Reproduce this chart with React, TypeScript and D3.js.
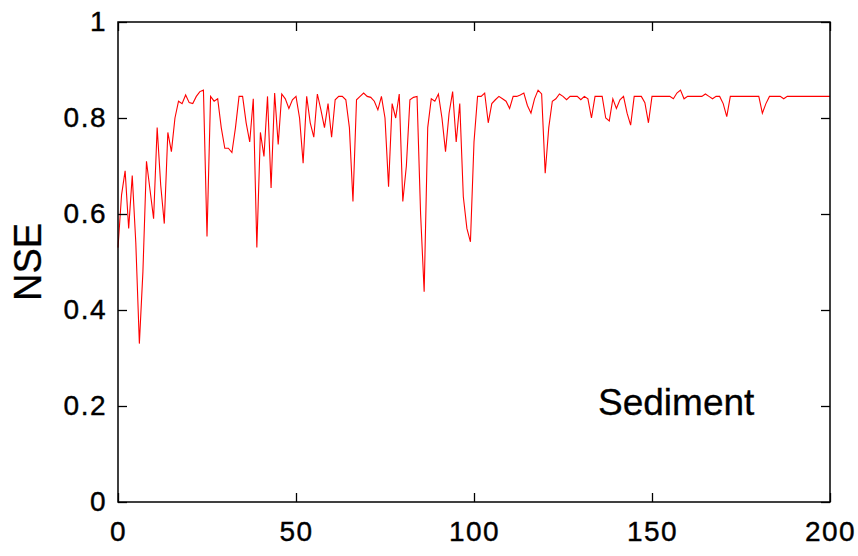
import React, { useEffect, useRef } from 'react';
import * as d3 from 'd3';

// NSE values, one per iteration 0..200
const nse: number[] = [
  0.53, 0.64, 0.69, 0.57, 0.68, 0.54, 0.33, 0.48, 0.71, 0.65,
  0.59, 0.78, 0.66, 0.58, 0.77, 0.73, 0.80, 0.835, 0.83, 0.848,
  0.832, 0.83, 0.845, 0.855, 0.858, 0.553, 0.845, 0.835, 0.84, 0.78,
  0.737, 0.737, 0.728, 0.78, 0.845, 0.845, 0.79, 0.75, 0.84, 0.53,
  0.77, 0.72, 0.845, 0.654, 0.852, 0.745, 0.85, 0.84, 0.82, 0.838,
  0.845, 0.80, 0.706, 0.845, 0.79, 0.76, 0.85, 0.817, 0.78, 0.83,
  0.76, 0.838, 0.845, 0.845, 0.838, 0.78, 0.626, 0.838, 0.845, 0.852,
  0.845, 0.843, 0.835, 0.817, 0.845, 0.80, 0.657, 0.83, 0.80, 0.85,
  0.626, 0.70, 0.838, 0.843, 0.845, 0.60, 0.438, 0.78, 0.84, 0.835,
  0.85, 0.80, 0.73, 0.81, 0.855, 0.75, 0.83, 0.636, 0.57, 0.542,
  0.75, 0.845, 0.845, 0.852, 0.79, 0.83, 0.838, 0.845, 0.84, 0.835,
  0.82, 0.845, 0.845, 0.848, 0.852, 0.826, 0.81, 0.84, 0.858, 0.85,
  0.685, 0.78, 0.835, 0.84, 0.85, 0.845, 0.838, 0.845, 0.845, 0.845,
  0.838, 0.845, 0.84, 0.80, 0.845, 0.845, 0.845, 0.80, 0.794, 0.84,
  0.82, 0.838, 0.845, 0.81, 0.785, 0.845, 0.845, 0.845, 0.832, 0.79,
  0.845, 0.845, 0.845, 0.845, 0.845, 0.845, 0.84, 0.852, 0.858, 0.84,
  0.845, 0.845, 0.845, 0.845, 0.845, 0.85, 0.845, 0.84, 0.845, 0.845,
  0.83, 0.803, 0.845, 0.845, 0.845, 0.845, 0.845, 0.845, 0.845, 0.845,
  0.845, 0.81, 0.83, 0.845, 0.845, 0.845, 0.845, 0.84, 0.845, 0.845,
  0.845, 0.845, 0.845, 0.845, 0.845, 0.845, 0.845, 0.845, 0.845, 0.845,
  0.845,
];
const xTicks = [0, 50, 100, 150, 200];
const yTicks = [0, 0.2, 0.4, 0.6, 0.8, 1];

export default function App() {
  const ref = useRef<SVGSVGElement>(null);

  useEffect(() => {
    const svg = d3.select(ref.current);
    svg.selectAll('*').remove();

    const margin = { top: 22, right: 28, bottom: 54, left: 118 };
    const width = 858 - margin.left - margin.right;
    const height = 556 - margin.top - margin.bottom;
    const font = 'Liberation Sans, Arial, Helvetica, sans-serif';

    const g = svg.append('g').attr('transform', `translate(${margin.left},${margin.top})`);

    const x = d3.scaleLinear().domain([0, 200]).range([0, width]);
    const y = d3.scaleLinear().domain([0, 1]).range([height, 0]);

    const line = d3.line<number>()
      .x((d, i) => x(i))
      .y(d => y(d));

    g.append('path')
      .datum(nse)
      .attr('fill', 'none')
      .attr('stroke', '#ff0000')
      .attr('stroke-width', 1.1)
      .attr('d', line);

    const tickLen = 9;

    // inner ticks, matlab style, on all four sides
    const bottom = d3.axisBottom(x).tickValues(xTicks).tickSizeInner(-tickLen).tickSizeOuter(0).tickPadding(19);
    const gx = g.append('g').attr('transform', `translate(0,${height})`).call(bottom);
    gx.select('.domain').remove();

    const top = d3.axisTop(x).tickValues(xTicks).tickSizeInner(-tickLen).tickSizeOuter(0).tickFormat(() => '');
    const gt = g.append('g').call(top);
    gt.select('.domain').remove();

    const left = d3.axisLeft(y).tickValues(yTicks).tickSizeInner(-tickLen).tickSizeOuter(0).tickPadding(11)
      .tickFormat(d => d3.format('')(+(+d).toFixed(1)));
    const gy = g.append('g').call(left);
    gy.select('.domain').remove();

    const right = d3.axisRight(y).tickValues(yTicks).tickSizeInner(-tickLen).tickSizeOuter(0).tickFormat(() => '');
    const gr = g.append('g').attr('transform', `translate(${width},0)`).call(right);
    gr.select('.domain').remove();

    g.selectAll('.tick text')
      .attr('font-size', 28)
      .attr('font-family', font)
      .attr('letter-spacing', 1.5)
      .attr('fill', '#000')
      .attr('stroke', '#000')
      .attr('stroke-width', 0.4);

    g.selectAll('.tick line').attr('stroke', '#000').attr('stroke-width', 1.3);

    g.append('rect')
      .attr('width', width)
      .attr('height', height)
      .attr('fill', 'none')
      .attr('stroke', '#000')
      .attr('stroke-width', 1.5);

    g.append('text')
      .attr('transform', `translate(${-77},${height / 2}) rotate(-90)`)
      .attr('text-anchor', 'middle')
      .attr('font-size', 38)
      .attr('font-family', font)
      .attr('stroke', '#000')
      .attr('stroke-width', 0.3)
      .text('NSE');

    g.append('text')
      .attr('x', 598 - margin.left)
      .attr('y', 415 - margin.top)
      .attr('font-size', 37)
      .attr('font-family', font)
      .attr('stroke', '#000')
      .attr('stroke-width', 0.3)
      .text('Sediment');
  }, []);

  return (
    <svg
      ref={ref}
      width={858}
      height={556}
      style={{ position: 'absolute', left: 0, top: 0, background: '#fff' }}
    />
  );
}
